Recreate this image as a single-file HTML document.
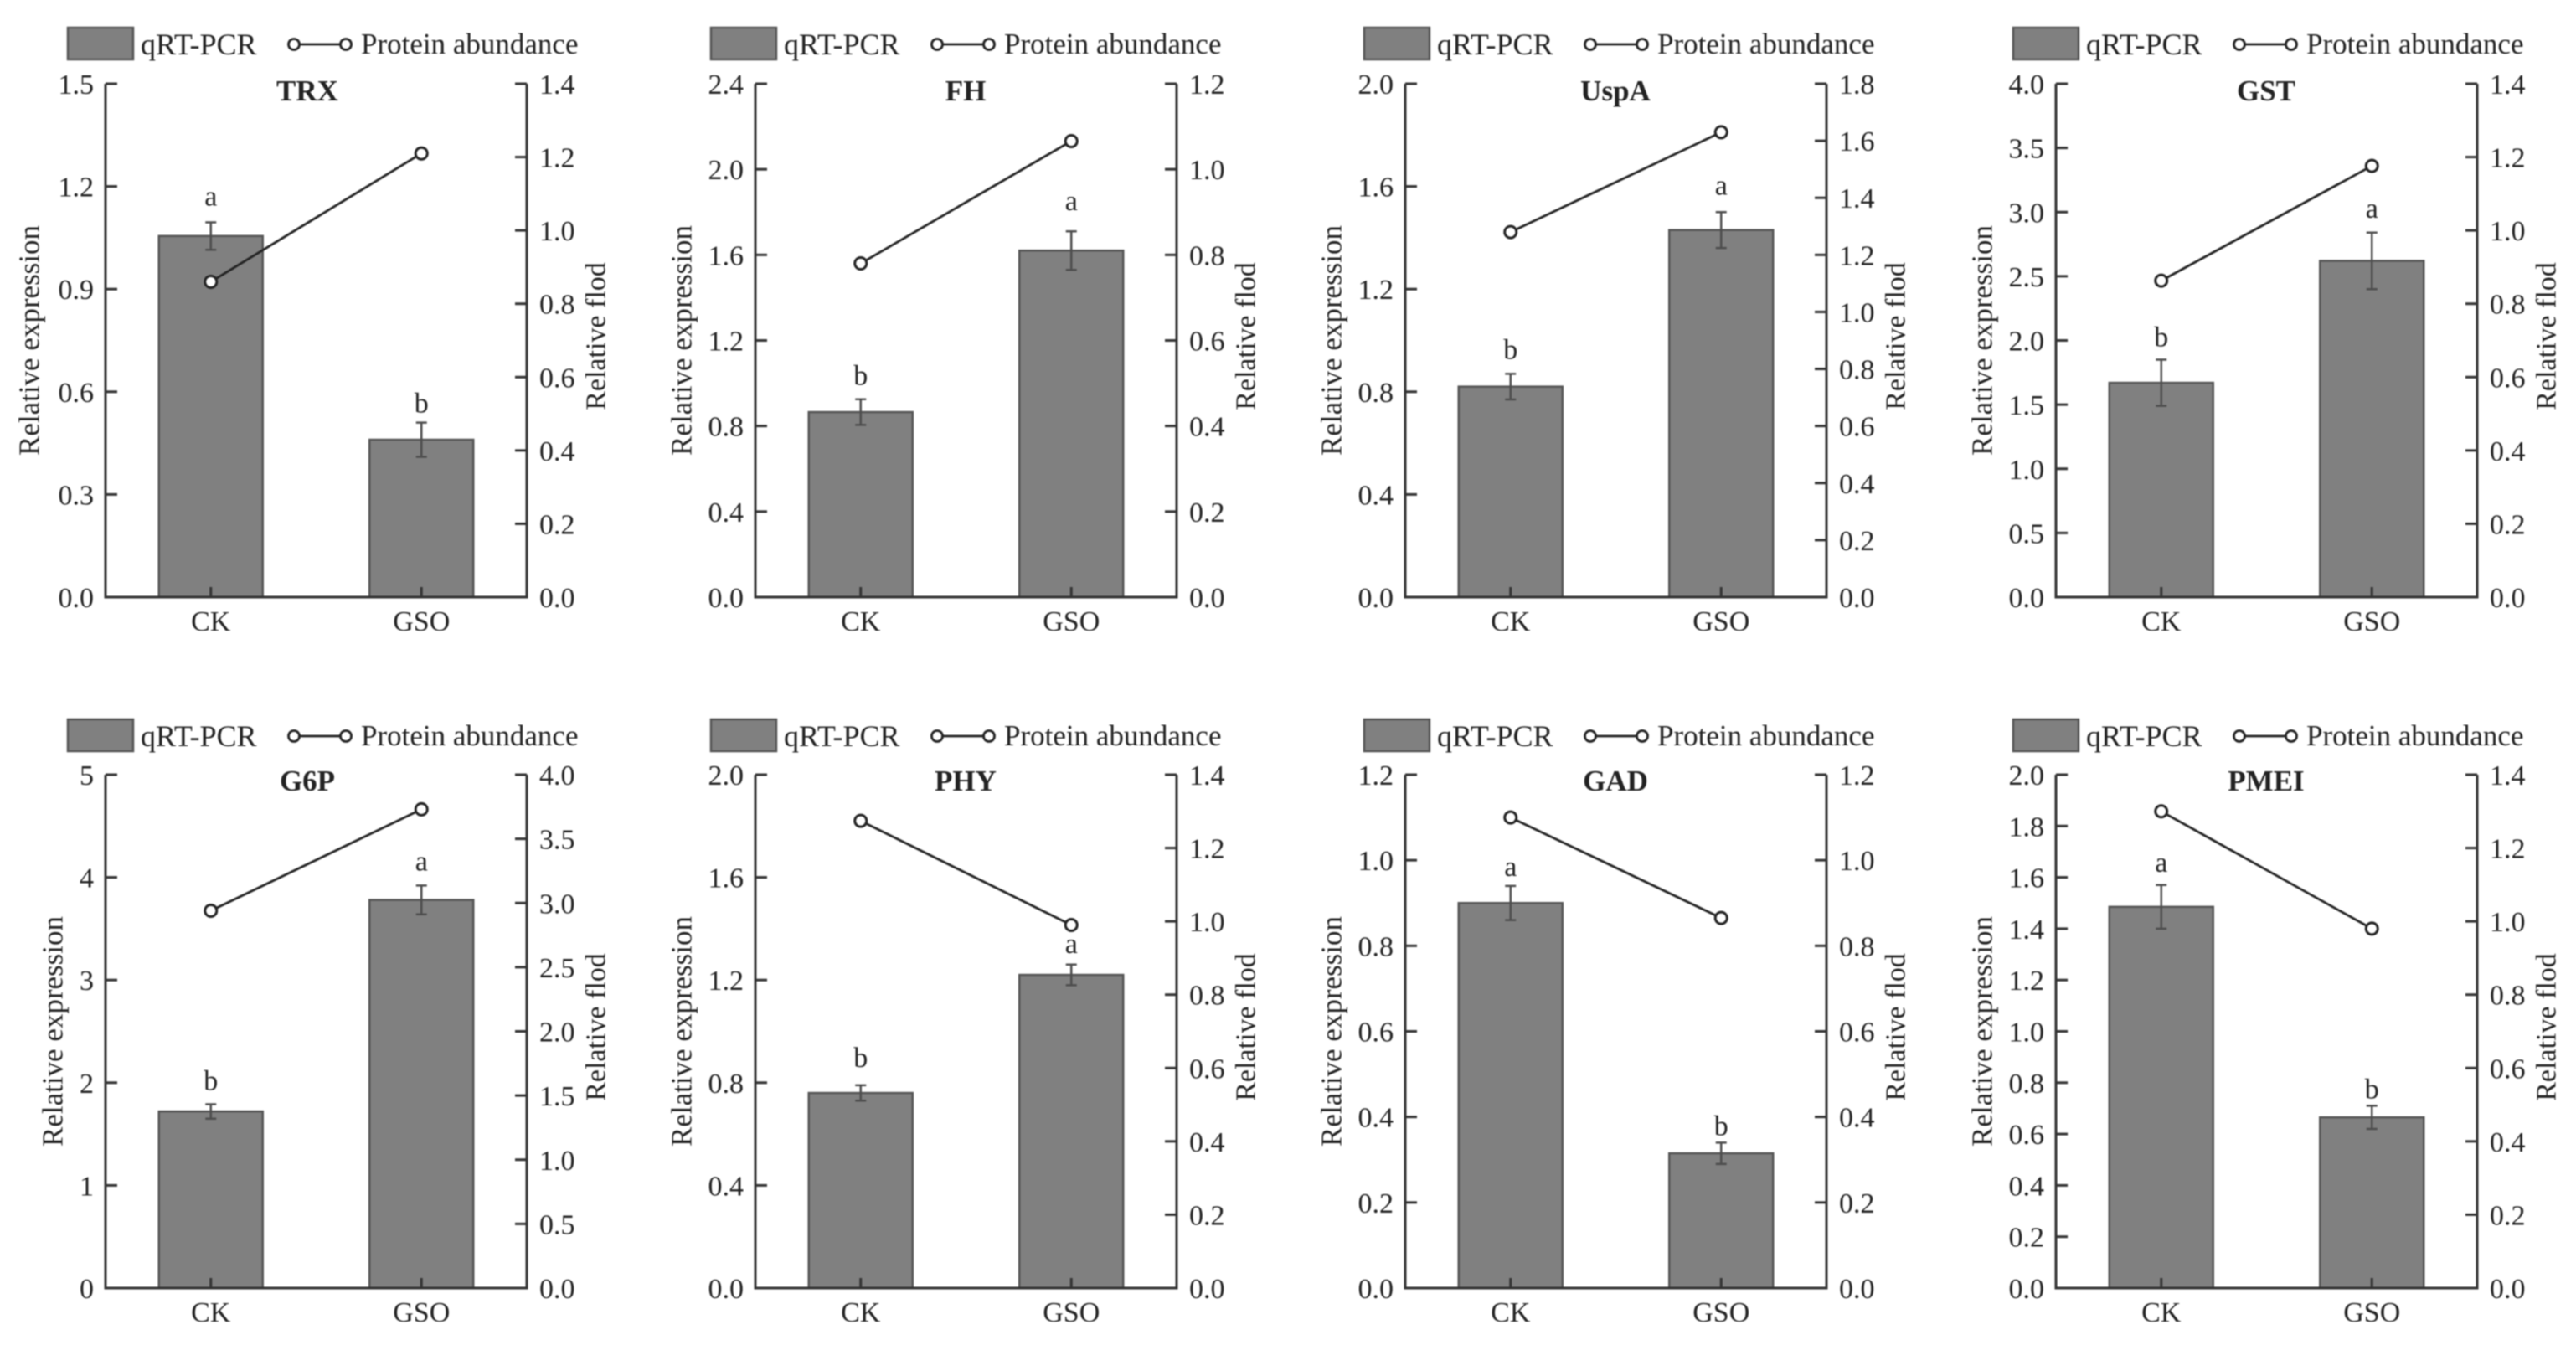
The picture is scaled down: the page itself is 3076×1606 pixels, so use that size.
<!DOCTYPE html>
<html lang="en">
<head>
<meta charset="utf-8">
<title>qRT-PCR and protein abundance panels</title>
<style>
html,body{margin:0;padding:0;background:#fff;}
body{width:3076px;height:1606px;overflow:hidden;}
svg{display:block;filter:blur(0.7px);}
text{font-family:"Liberation Serif",serif;fill:#222;font-size:34px;}
</style>
</head>
<body>
<svg id="fig" width="3076" height="1606" viewBox="0 0 3076 1606" xmlns="http://www.w3.org/2000/svg"></svg>
<script>
const panelNames = ["TRX","FH","UspA","GST","G6P","PHY","GAD","PMEI"];
const categories = ["CK","GSO"];
const leftTicks = [
  ["0.0","0.3","0.6","0.9","1.2","1.5"],
  ["0.0","0.4","0.8","1.2","1.6","2.0","2.4"],
  ["0.0","0.4","0.8","1.2","1.6","2.0"],
  ["0.0","0.5","1.0","1.5","2.0","2.5","3.0","3.5","4.0"],
  ["0","1","2","3","4","5"],
  ["0.0","0.4","0.8","1.2","1.6","2.0"],
  ["0.0","0.2","0.4","0.6","0.8","1.0","1.2"],
  ["0.0","0.2","0.4","0.6","0.8","1.0","1.2","1.4","1.6","1.8","2.0"]
];
const rightTicks = [
  ["0.0","0.2","0.4","0.6","0.8","1.0","1.2","1.4"],
  ["0.0","0.2","0.4","0.6","0.8","1.0","1.2"],
  ["0.0","0.2","0.4","0.6","0.8","1.0","1.2","1.4","1.6","1.8"],
  ["0.0","0.2","0.4","0.6","0.8","1.0","1.2","1.4"],
  ["0.0","0.5","1.0","1.5","2.0","2.5","3.0","3.5","4.0"],
  ["0.0","0.2","0.4","0.6","0.8","1.0","1.2","1.4"],
  ["0.0","0.2","0.4","0.6","0.8","1.0","1.2"],
  ["0.0","0.2","0.4","0.6","0.8","1.0","1.2","1.4"]
];
const barValues = [[1.055,0.46],[0.865,1.62],[0.82,1.43],[1.67,2.62],[1.72,3.78],[0.76,1.22],[0.9,0.315],[1.485,0.665]];
const barErrors = [[0.04,0.05],[0.06,0.09],[0.05,0.07],[0.18,0.22],[0.07,0.14],[0.03,0.04],[0.04,0.025],[0.085,0.045]];
const lineValues = [[0.86,1.21],[0.78,1.066],[1.28,1.63],[0.863,1.176],[2.94,3.73],[1.274,0.99],[1.1,0.865],[1.3,0.98]];
const sigLetters = [["a","b"],["b","a"],["b","a"],["b","a"],["b","a"],["b","a"],["a","b"],["a","b"]];

const NS = "http://www.w3.org/2000/svg";
const svg = document.getElementById("fig");
const colLeft = [126, 902, 1678, 2455];
const rowTop = [100, 925];
const plotW = 503, plotH = 613, barW = 124;
const legendShift = [-45, -53, -49, -51];
const yTitleShift = [-91, -88, -88, -88, -63, -88, -88, -88];
const titleShift = [241, 251, 251, 251];
const sigGap = [[20,12],[17,25],[18,21],[16,18],[17,18],[22,14],[12,9],[16,9]];

function mk(parent, tag, attrs, txt) {
  const e = document.createElementNS(NS, tag);
  for (const k in attrs) e.setAttribute(k, attrs[k]);
  if (txt !== undefined) e.textContent = txt;
  parent.appendChild(e);
  return e;
}

panelNames.forEach(function (name, p) {
  const row = p < 4 ? 0 : 1;
  const x0 = colLeft[p % 4], y0 = rowTop[row];
  const yB = y0 + plotH, x1 = x0 + plotW;
  const leftMax = parseFloat(leftTicks[p][leftTicks[p].length - 1]);
  const rightMax = parseFloat(rightTicks[p][rightTicks[p].length - 1]);
  const yL = function (v) { return yB - v / leftMax * plotH; };
  const yR = function (v) { return yB - v / rightMax * plotH; };
  const xC = function (i) { return x0 + plotW * (i + 0.5) / categories.length; };

  const g = mk(svg, "g", {});
  
  

  // legend
  const lx = x0 + legendShift[p % 4], ly = y0 - 67 + row;
  const lg = mk(g, "g", {});
  
  
  const swatch = mk(lg, "rect", {x: lx, y: ly, width: 78, height: 38, fill: "#808080", stroke: "#555", "stroke-width": 2.5});
  
  
  const lt1 = mk(lg, "text", {x: lx + 87, y: ly + 32, style: "font-size:36px"}, "qRT-PCR");
  
  
  const ll = mk(lg, "line", {x1: lx + 270, x2: lx + 332, y1: ly + 20, y2: ly + 20, stroke: "#222", "stroke-width": 2.8});
  
  
  [270, 332].forEach(function (dx) {
    const lc = mk(lg, "circle", {cx: lx + dx, cy: ly + 20, r: 6.5, fill: "#fff", stroke: "#222", "stroke-width": 2.8});
    
    
  });
  const lt2 = mk(lg, "text", {x: lx + 350, y: ly + 31, style: "font-size:35px"}, "Protein abundance");
  
  

  // bars
  categories.forEach(function (c, i) {
    const bar = mk(g, "rect", {x: xC(i) - barW / 2, y: yL(barValues[p][i]), width: barW, height: yB - yL(barValues[p][i]), fill: "#808080", stroke: "#555", "stroke-width": 2.5});
    
    
  });

  // error bars
  categories.forEach(function (c, i) {
    const hi = yL(barValues[p][i] + barErrors[p][i]), lo = yL(barValues[p][i] - barErrors[p][i]);
    const d = "M" + (xC(i) - 6.5) + " " + hi + "H" + (xC(i) + 6.5) + "M" + xC(i) + " " + hi + "V" + lo + "M" + (xC(i) - 6.5) + " " + lo + "H" + (xC(i) + 6.5);
    const err = mk(g, "path", {d: d, fill: "none", stroke: "#4d4d4d", "stroke-width": 2.5});
    
    
    const sig = mk(g, "text", {x: xC(i), y: hi - sigGap[p][i], "text-anchor": "middle"}, sigLetters[p][i]);
    
    
  });

  // axes
  const axes = mk(g, "path", {d: "M" + x0 + " " + y0 + "V" + yB + "H" + x1 + "V" + y0, fill: "none", stroke: "#333", "stroke-width": 3});
  
  

  leftTicks[p].forEach(function (t) {
    const y = yL(parseFloat(t));
    const tick = mk(g, "line", {x1: x0, x2: x0 + 14, y1: y, y2: y, stroke: "#333", "stroke-width": 3});
    
    
    const lab = mk(g, "text", {x: x0 - 14, y: y + 12, "text-anchor": "end"}, t);
    
    
  });
  rightTicks[p].forEach(function (t) {
    const y = yR(parseFloat(t));
    const tick = mk(g, "line", {x1: x1, x2: x1 - 14, y1: y, y2: y, stroke: "#333", "stroke-width": 3});
    
    
    const lab = mk(g, "text", {x: x1 + 15, y: y + 12}, t);
    
    
  });
  categories.forEach(function (c, i) {
    const tick = mk(g, "line", {x1: xC(i), x2: xC(i), y1: yB, y2: yB - 12, stroke: "#333", "stroke-width": 3});
    
    
    const lab = mk(g, "text", {x: xC(i), y: yB + 40, "text-anchor": "middle"}, c);
    
    
  });

  // protein abundance line
  const pts = lineValues[p].map(function (v, i) { return xC(i) + "," + yR(v); }).join(" ");
  const pl = mk(g, "polyline", {points: pts, fill: "none", stroke: "#222", "stroke-width": 2.8});
  
  
  lineValues[p].forEach(function (v, i) {
    const pt = mk(g, "circle", {cx: xC(i), cy: yR(v), r: 7, fill: "#fff", stroke: "#222", "stroke-width": 3});
    
    
  });

  // titles
  const title = mk(g, "text", {x: x0 + titleShift[p % 4], y: y0 + (row ? 19 : 20), "text-anchor": "middle", style: "font-weight:bold;font-size:35px"}, name);
  
  
  const cy = y0 + plotH / 2;
  const tx = x0 + yTitleShift[p];
  const yt = mk(g, "text", {x: tx, y: cy, "text-anchor": "middle", transform: "rotate(-90 " + tx + " " + cy + ")", "dominant-baseline": "central", style: "font-size:35px"}, "Relative expression");
  
  
  const rx = x1 + 83;
  const rt = mk(g, "text", {x: rx, y: cy - 5, "text-anchor": "middle", transform: "rotate(-90 " + rx + " " + (cy - 5) + ")", "dominant-baseline": "central"}, "Relative flod");
  
  
});
</script>
</body>
</html>
